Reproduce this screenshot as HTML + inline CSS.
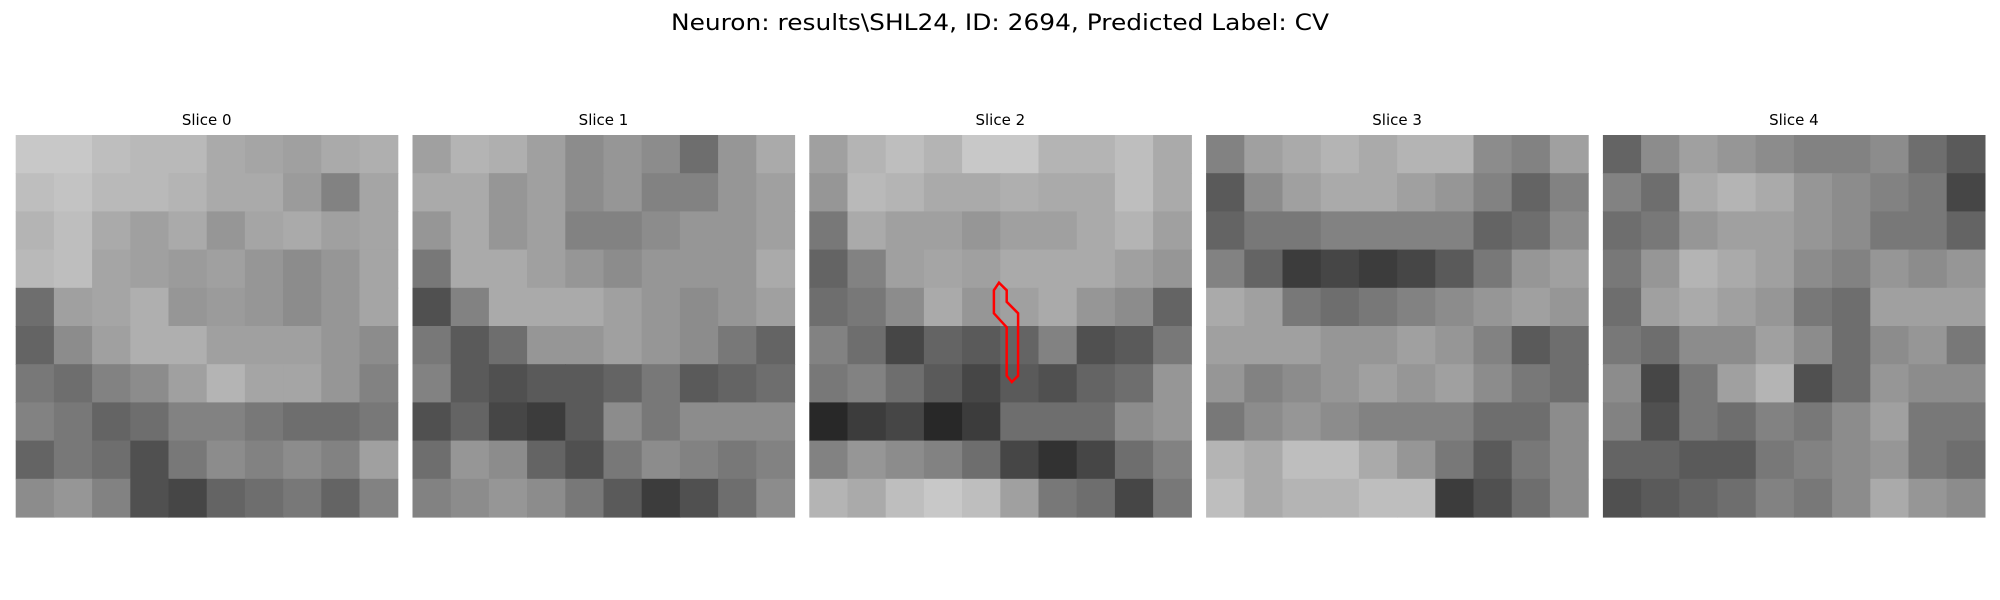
<!DOCTYPE html>
<html><head><meta charset="utf-8"><style>
html,body{margin:0;padding:0;background:#fff;width:2000px;height:600px;overflow:hidden}
svg{display:block}
text{font-family:"DejaVu Sans","Liberation Sans",sans-serif;fill:#000}
</style></head><body>
<svg id="chart" width="2000" height="600" viewBox="0 0 2000 600" xmlns="http://www.w3.org/2000/svg">
<text x="1000" y="30" font-size="22" text-anchor="middle" textLength="658" lengthAdjust="spacingAndGlyphs">Neuron: results\SHL24, ID: 2694, Predicted Label: CV</text>
<g id="panels"></g>
</svg>
<script>
const sliceTitles = ["Slice 0","Slice 1","Slice 2","Slice 3","Slice 4"];
const slice0 = [
[200,200,190,185,185,170,165,160,170,175],
[190,195,185,185,180,170,170,155,130,165],
[180,190,170,160,170,150,165,170,160,165],
[185,190,165,160,155,160,150,140,150,165],
[110,160,165,175,150,155,150,140,150,165],
[100,140,160,175,175,160,160,160,150,140],
[120,110,130,140,160,180,165,165,150,130],
[130,120,100,110,130,130,120,110,110,120],
[100,120,110,80,120,140,130,140,130,160],
[140,150,130,80,70,100,110,120,100,130]];
const slice1 = [
[160,180,175,160,140,150,140,110,150,170],
[170,170,150,160,140,150,130,130,150,160],
[150,170,150,160,130,130,140,150,150,160],
[120,170,170,160,150,140,150,150,150,170],
[80,130,170,170,170,160,150,140,150,160],
[120,90,110,150,150,160,150,140,120,100],
[130,90,80,90,90,100,120,90,100,110],
[80,100,70,60,90,140,120,140,140,140],
[110,150,140,100,80,120,140,130,120,130],
[130,140,150,140,120,90,60,80,110,140]];
const slice2 = [
[160,180,190,180,200,200,180,180,190,170],
[150,185,180,170,170,175,170,170,190,170],
[120,170,160,160,150,160,160,170,180,160],
[100,130,160,165,160,170,170,170,160,150],
[110,120,140,170,150,160,170,150,140,100],
[130,110,70,100,90,100,130,80,90,120],
[120,130,110,90,70,90,80,100,110,150],
[40,60,70,40,60,110,110,110,140,150],
[130,150,140,130,110,70,50,70,110,130],
[180,170,190,200,190,160,120,110,70,120]];
const slice3 = [
[130,160,170,180,170,180,180,140,130,160],
[90,140,160,170,170,160,150,130,100,130],
[100,120,120,130,130,130,130,100,110,140],
[130,100,60,70,60,70,90,120,150,160],
[170,160,120,110,120,130,140,150,160,150],
[160,160,160,150,150,160,150,130,90,110],
[150,130,140,150,160,150,160,140,120,110],
[120,140,150,140,130,130,130,110,110,140],
[180,170,190,190,170,150,120,90,120,140],
[190,170,180,180,190,190,60,80,110,140]];
const slice4 = [
[100,140,160,150,140,130,130,140,110,90],
[130,110,170,180,170,150,140,130,120,70],
[110,120,150,160,160,150,140,120,120,100],
[120,150,180,170,160,140,130,150,140,150],
[110,160,170,160,150,120,110,160,160,160],
[120,110,140,140,160,140,110,140,150,120],
[140,70,120,160,180,80,110,150,140,140],
[130,80,120,110,130,120,140,160,120,120],
[100,100,90,90,120,130,140,150,120,110],
[80,90,100,110,130,120,140,170,150,140]];
const slices = [slice0,slice1,slice2,slice3,slice4];
// contour on slice 2, in image-pixel units (0..30)
const contourX = [14.9,14.5,14.5,15.5,15.5,15.9,16.4,16.4,15.5,15.5];
const contourY = [11.6,12.2,14.0,15.1,18.9,19.4,18.9,14.0,13.1,12.2];
const contourSlice = 2;

const NS = "http://www.w3.org/2000/svg";
const g = document.getElementById("panels");
const left0 = 15.7, step = 396.8, top0 = 135, size = 382, imgPx = 30;
function panelX(i){ return left0 + i*step; }
for (let s = 0; s < slices.length; s++) {
  const data = slices[s];
  const pg = document.createElementNS(NS, "g");
  
  
  g.appendChild(pg);
  const t = document.createElementNS(NS, "text");
  
  
  t.setAttribute("x", panelX(s) + size/2);
  t.setAttribute("y", 125);
  t.setAttribute("font-size", "15");
  t.setAttribute("text-anchor", "middle");
  t.textContent = sliceTitles[s];
  pg.appendChild(t);
  const rows = data.length, cols = data[0].length;
  const cw = size/cols, ch = size/rows;
  for (let r = 0; r < rows; r++) for (let c = 0; c < cols; c++) {
    const v = data[r][c];
    const rect = document.createElementNS(NS, "rect");
    
    
    rect.setAttribute("x", (panelX(s) + c*cw).toFixed(2));
    rect.setAttribute("y", (top0 + r*ch).toFixed(2));
    rect.setAttribute("width", (cw+0.6).toFixed(2));
    rect.setAttribute("height", (ch+0.6).toFixed(2));
    rect.setAttribute("fill", "rgb(" + v + "," + v + "," + v + ")");
    pg.appendChild(rect);
  }
}
const unit = size/imgPx;
const pts = contourX.map((x,i) => (panelX(contourSlice) + x*unit).toFixed(1) + "," + (top0 + contourY[i]*unit).toFixed(1)).join(" ");
const poly = document.createElementNS(NS, "polygon");


poly.setAttribute("points", pts);
poly.setAttribute("fill", "none");
poly.setAttribute("stroke", "#ff0000");
poly.setAttribute("stroke-width", "2.5");
g.appendChild(poly);
</script>
</body></html>
